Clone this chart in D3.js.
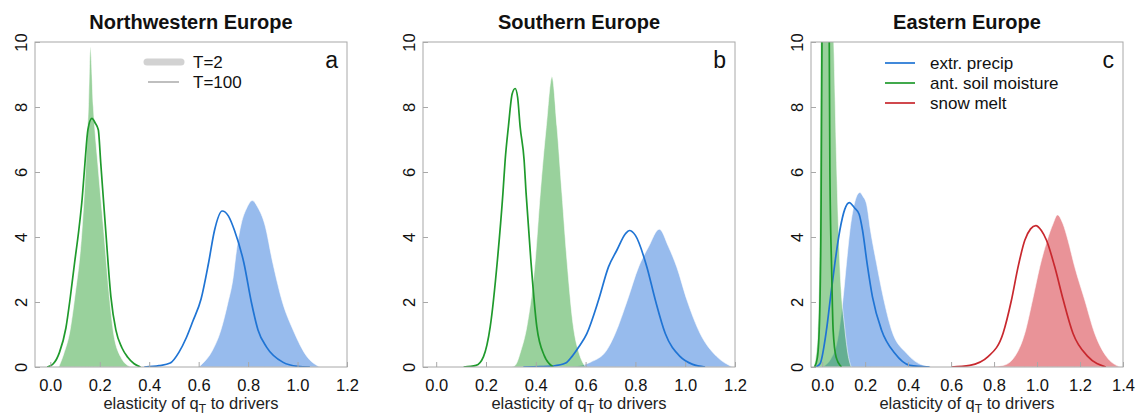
<!DOCTYPE html>
<html><head><meta charset="utf-8">
<script src="https://cdn.jsdelivr.net/npm/d3@7"></script>
<style>
html,body{margin:0;padding:0;background:#fff;}
svg{display:block;font-family:"Liberation Sans",Arial,Helvetica,sans-serif;}
</style></head>
<body>
<svg id="chart" width="1139" height="414"></svg>
<script>
// ---------- data ----------
const titles = ["Northwestern Europe", "Southern Europe", "Eastern Europe"];
const panelLetters = ["a", "b", "c"];
const xTicksAB = [0, 0.2, 0.4, 0.6, 0.8, 1.0, 1.2];
const xTicksC = [0, 0.2, 0.4, 0.6, 0.8, 1.0, 1.2, 1.4];
const yTicks = [0, 2, 4, 6, 8, 10];
const xMinA = -0.062, xMinB = -0.053, xMinC = -0.052;
const xMaxAB = 1.2, xMaxC = 1.4;
const driverNames = ["extr. precip", "ant. soil moisture", "snow melt"];
const periodNames = ["T=2", "T=100"];
const xLabelMain = "elasticity of q";
const xLabelSub = "T";
const xLabelTail = " to drivers";

// densities as [elasticity, density] pairs
// Northwestern Europe
const nwSoilT2 = [[0.034,0],[0.054,0.4],[0.08,1.14],[0.099,2.16],[0.128,4.2],[0.144,6.27],[0.154,8],[0.162,9.85],[0.174,8],[0.192,6.27],[0.216,4.2],[0.239,2.16],[0.254,1.14],[0.284,0.32],[0.324,0]];
const nwSoilT100 = [[-0.013,0],[0.012,0.1],[0.037,0.45],[0.063,1.2],[0.08,2.1],[0.098,3.2],[0.115,4.2],[0.129,5.2],[0.14,6.27],[0.152,7.3],[0.168,7.65],[0.182,7.5],[0.194,7.3],[0.204,6.27],[0.224,4.2],[0.245,2.16],[0.265,1.14],[0.289,0.6],[0.313,0.3],[0.339,0.1],[0.365,0]];
const nwPrecipT2 = [[0.6,0],[0.615,0.1],[0.655,0.5],[0.69,1.14],[0.718,1.97],[0.738,2.68],[0.755,3.7],[0.772,4.4],[0.795,4.9],[0.817,5.12],[0.84,4.9],[0.867,4.4],[0.9,3.2],[0.94,1.97],[0.982,1.14],[1.04,0.3],[1.09,0]];
const nwPrecipT100 = [[0.38,0],[0.44,0.04],[0.485,0.12],[0.52,0.45],[0.55,0.9],[0.576,1.4],[0.61,2.1],[0.64,3.2],[0.664,4.2],[0.695,4.8],[0.72,4.65],[0.745,4.2],[0.783,3.2],[0.813,2.0],[0.84,1.14],[0.874,0.62],[0.94,0.15],[1.0,0.02],[1.05,0]];
// Southern Europe
const sSoilT2 = [[0.3,0],[0.317,0.05],[0.34,0.5],[0.364,1.24],[0.398,3.3],[0.418,5.35],[0.442,7.4],[0.465,8.93],[0.485,7.4],[0.505,5.35],[0.525,3.3],[0.551,1.24],[0.575,0.4],[0.6,0]];
const sSoilT100 = [[0.11,0],[0.16,0.05],[0.19,0.32],[0.217,1.24],[0.246,3.3],[0.268,5.35],[0.277,6.37],[0.29,7.4],[0.305,8.4],[0.317,8.57],[0.327,8.3],[0.337,7.4],[0.353,6.37],[0.361,5.35],[0.38,3.3],[0.404,1.24],[0.434,0.35],[0.47,0]];
const sPrecipT2 = [[0.5,0],[0.58,0.05],[0.62,0.15],[0.685,0.52],[0.719,1.03],[0.768,2.06],[0.813,3.08],[0.853,3.7],[0.896,4.24],[0.933,3.7],[0.966,3.08],[1.007,2.06],[1.06,1.03],[1.127,0.32],[1.19,0]];
const sPrecipT100 = [[0.35,0],[0.42,0.01],[0.47,0.03],[0.52,0.12],[0.545,0.32],[0.571,0.6],[0.605,1.03],[0.652,2.06],[0.692,3.08],[0.726,3.6],[0.76,4.1],[0.776,4.2],[0.8,4.05],[0.846,3.08],[0.88,2.06],[0.92,1.03],[0.98,0.32],[1.03,0.08],[1.08,0]];
// Eastern Europe
const eSoilT2 = [[-0.04,0],[-0.03,0.3],[-0.02,1.1],[-0.012,4],[-0.007,10.5],[0.0,13],[0.02,14],[0.04,13],[0.054,10],[0.067,6.3],[0.082,3.2],[0.106,1.14],[0.12,0.4],[0.135,0]];
const eSoilT100 = [[-0.035,0],[-0.022,0.3],[-0.012,1.5],[-0.005,5],[-0.001,10],[0.015,16],[0.033,10],[0.036,6],[0.044,3],[0.051,1.14],[0.065,0.3],[0.09,0]];
const ePrecipT2 = [[0.0,0],[0.013,0.05],[0.04,0.25],[0.064,0.62],[0.079,1.14],[0.098,2.16],[0.113,3.19],[0.129,4.2],[0.149,5.0],[0.175,5.37],[0.19,5.25],[0.207,5.0],[0.225,4.2],[0.253,3.19],[0.284,2.16],[0.323,1.14],[0.393,0.42],[0.47,0.05],[0.52,0]];
const ePrecipT100 = [[-0.03,0],[-0.01,0.1],[0.02,1.14],[0.039,2.16],[0.059,3.19],[0.082,4.2],[0.105,4.85],[0.126,5.06],[0.15,4.9],[0.172,4.7],[0.188,4.2],[0.209,3.19],[0.234,2.16],[0.276,1.14],[0.338,0.42],[0.408,0.05],[0.5,0]];
const eSnowT2 = [[0.75,0],[0.842,0.05],[0.896,0.32],[0.943,1.04],[0.979,2.06],[1.013,3.09],[1.047,3.9],[1.074,4.4],[1.095,4.68],[1.121,4.4],[1.144,3.9],[1.175,3.09],[1.222,2.06],[1.268,1.04],[1.323,0.32],[1.385,0]];
const eSnowT100 = [[0.6,0],[0.687,0.05],[0.772,0.32],[0.842,1.04],[0.881,2.06],[0.912,3.09],[0.943,3.9],[0.97,4.25],[0.994,4.35],[1.02,4.2],[1.044,3.9],[1.082,3.09],[1.122,2.06],[1.167,1.04],[1.237,0.32],[1.32,0]];

// ---------- styles ----------
const lineColors = {precip: "#1f74d4", soil: "#1f9a2c", snow: "#c8282e"};
const fillColors = {precip: "#2f78dc", soil: "#34a43a", snow: "#d42832"};
const FONT = "Liberation Sans, Arial, sans-serif";

const panels = [
  {title: titles[0], letter: panelLetters[0], xmin: xMinA, xmax: xMaxAB, ticks: xTicksAB,
   fills: [["precip", nwPrecipT2], ["soil", nwSoilT2]],
   lines: [["precip", nwPrecipT100], ["soil", nwSoilT100]]},
  {title: titles[1], letter: panelLetters[1], xmin: xMinB, xmax: xMaxAB, ticks: xTicksAB,
   fills: [["precip", sPrecipT2], ["soil", sSoilT2]],
   lines: [["precip", sPrecipT100], ["soil", sSoilT100]]},
  {title: titles[2], letter: panelLetters[2], xmin: xMinC, xmax: xMaxC, ticks: xTicksC,
   fills: [["precip", ePrecipT2], ["soil", eSoilT2], ["snow", eSnowT2]],
   lines: [["precip", ePrecipT100], ["soil", eSoilT100], ["snow", eSnowT100]]}
];

const svg = d3.select("#chart");
const lefts = [35, 423, 811];
const W = 312, plotTop = 42, plotBottom = 367;
const y = d3.scaleLinear().domain([0, 10]).range([plotBottom, plotTop]);

panels.forEach((p, i) => {
  const L = lefts[i];
  const x = d3.scaleLinear().domain([p.xmin, p.xmax]).range([L, L + W]);
  const g = svg.append("g");
  const clipId = "clip" + i;
  svg.append("clipPath").attr("id", clipId).append("rect")
    .attr("x", L).attr("y", plotTop).attr("width", W).attr("height", plotBottom - plotTop);

  const area = d3.area().x(d => x(d[0])).y0(y(0)).y1(d => y(d[1])).curve(d3.curveMonotoneX);
  const line = d3.line().x(d => x(d[0])).y(d => y(d[1])).curve(d3.curveMonotoneX);

  const plot = g.append("g").attr("clip-path", `url(#${clipId})`);
  p.fills.forEach(([k, data]) => {
    plot.append("path").attr("d", area(data))
      .attr("fill", fillColors[k]).attr("fill-opacity", 0.5)
      .attr("stroke", "#fff").attr("stroke-width", 0.8).attr("stroke-opacity", 0.7);
  });
  p.lines.forEach(([k, data]) => {
    plot.append("path").attr("d", line(data))
      .attr("fill", "none").attr("stroke", lineColors[k]).attr("stroke-width", 1.7)
      .attr("stroke-linejoin", "round");
  });

  // box
  g.append("rect").attr("x", L).attr("y", plotTop).attr("width", W).attr("height", plotBottom - plotTop)
    .attr("fill", "none").attr("stroke", "#a8a8a8").attr("stroke-width", 1);

  // x axis (ticks inward)
  const xAxis = d3.axisBottom(x).tickValues(p.ticks).tickSize(-5).tickPadding(12)
    .tickFormat(d3.format(".1f"));
  const xg = g.append("g").attr("transform", `translate(0,${plotBottom})`).call(xAxis);
  xg.select(".domain").remove();
  xg.selectAll(".tick line").attr("stroke", "#a8a8a8");
  xg.selectAll(".tick text").attr("font-size", 16.5).attr("fill", "#111").attr("font-family", FONT);

  // y axis (ticks inward, labels rotated)
  const yAxis = d3.axisLeft(y).tickValues(yTicks).tickSize(-5).tickFormat(d3.format("d"));
  const yg = g.append("g").attr("transform", `translate(${L},0)`).call(yAxis);
  yg.select(".domain").remove();
  yg.selectAll(".tick line").attr("stroke", "#a8a8a8");
  yg.selectAll(".tick text").attr("font-size", 16.5).attr("fill", "#111").attr("font-family", FONT)
    .attr("x", null).attr("dy", null)
    .attr("text-anchor", "middle")
    .attr("transform", "translate(-8,0) rotate(-90)");

  // title
  g.append("text").attr("x", L + W / 2).attr("y", 29).attr("text-anchor", "middle")
    .attr("font-size", 20).attr("font-weight", "bold").attr("fill", "#111").text(p.title);

  // panel letter
  g.append("text").attr("x", L + W - 9).attr("y", 68).attr("text-anchor", "end")
    .attr("font-size", 23).attr("fill", "#111").text(p.letter);

  // x label
  const xl = g.append("text").attr("x", L + W / 2).attr("y", 409).attr("text-anchor", "middle")
    .attr("font-size", 16.5).attr("fill", "#222");
  xl.append("tspan").text(xLabelMain);
  xl.append("tspan").attr("font-size", 12).attr("dy", 3.5).text(xLabelSub);
  xl.append("tspan").attr("dy", -3.5).text(xLabelTail);
});

// legend panel a (return periods)
const lgA = svg.append("g");
lgA.append("line").attr("x1", 147).attr("x2", 181).attr("y1", 62).attr("y2", 62)
  .attr("stroke", "#d2d2d2").attr("stroke-width", 7).attr("stroke-linecap", "round");
lgA.append("line").attr("x1", 148).attr("x2", 179).attr("y1", 82).attr("y2", 82)
  .attr("stroke", "#aaaaaa").attr("stroke-width", 1.5);
lgA.selectAll("text.per").data(periodNames).join("text").attr("class", "per")
  .attr("x", 193).attr("y", (d, i) => 68 + i * 20).attr("font-size", 17).attr("fill", "#111").text(d => d);

// legend panel c (drivers)
const lgC = svg.append("g");
const drvKeys = ["precip", "soil", "snow"];
drvKeys.forEach((k, i) => {
  lgC.append("line").attr("x1", 885).attr("x2", 915).attr("y1", 63 + i * 20).attr("y2", 63 + i * 20)
    .attr("stroke", lineColors[k]).attr("stroke-width", 1.7);
  lgC.append("text").attr("x", 930).attr("y", 69 + i * 20).attr("font-size", 17).attr("fill", "#111")
    .text(driverNames[i]);
});
</script>
</body></html>
